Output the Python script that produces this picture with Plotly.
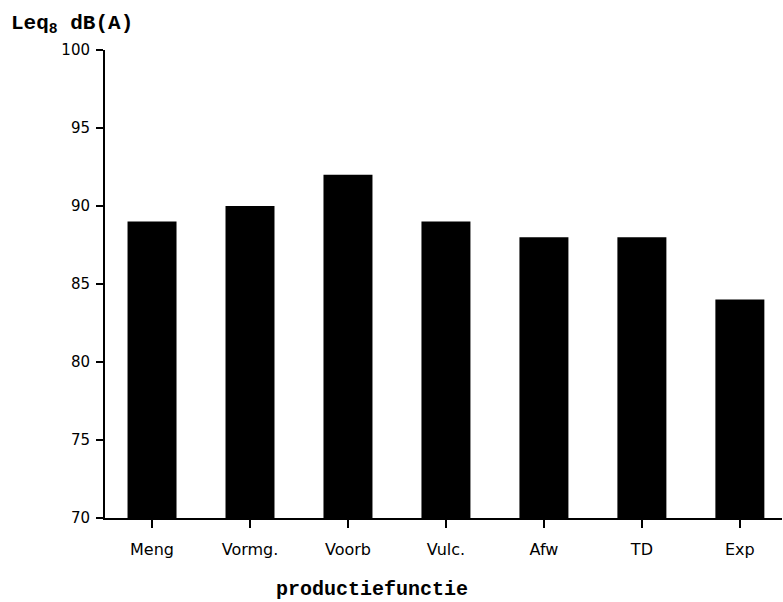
import plotly.graph_objects as go

categories = ["Meng", "Vormg.", "Voorb", "Vulc.", "Afw", "TD", "Exp"]
values = [89, 90, 92, 89, 88, 88, 84]
y_ticks = [70, 75, 80, 85, 90, 95, 100]

fig = go.Figure(go.Bar(x=list(range(len(categories))), y=values,
                       marker=dict(color="black", line=dict(width=0)),
                       width=0.5))

W, H = 783, 602
ml, mr, mt, mb = 105, 1, 50, 84
pw, ph = W - ml - mr, H - mt - mb

fig.update_layout(
    width=W, height=H,
    margin=dict(l=ml, r=mr, t=mt, b=mb),
    paper_bgcolor="white", plot_bgcolor="white",
    showlegend=False,
    font=dict(family="DejaVu Sans", size=15, color="black"),
    xaxis=dict(range=[-0.48, 6.43], tickvals=list(range(len(categories))),
               ticktext=categories, showgrid=False, zeroline=False,
               showline=True, linecolor="black", linewidth=2,
               ticks="outside", ticklen=8, tickwidth=2, tickcolor="black",
               ticklabelstandoff=8, tickfont=dict(size=16)),
    yaxis=dict(range=[70, 100], tickvals=y_ticks, showgrid=False, zeroline=False,
               showline=True, linecolor="black", linewidth=2,
               ticks="outside", ticklen=7, tickwidth=1.5, tickcolor="black",
               ticklabelstandoff=3),
    annotations=[
        dict(text="<b>Leq<sub>8</sub> dB(A)</b>", xref="paper", yref="paper",
             x=(9 - ml) / pw, y=1 + (mt - 25) / ph, xanchor="left", yanchor="middle",
             showarrow=False, font=dict(family="Liberation Mono", size=21, color="black")),
        dict(text="<b>productiefunctie</b>", xref="paper", yref="paper",
             x=(372 - ml) / pw, y=-(589 - (H - mb)) / ph, xanchor="center", yanchor="middle",
             showarrow=False, font=dict(family="Liberation Mono", size=20, color="black")),
    ],
)

fig.write_html("out.html", config={"displayModeBar": False},
               post_script="document.body.style.margin='0';document.body.style.overflow='hidden';")
